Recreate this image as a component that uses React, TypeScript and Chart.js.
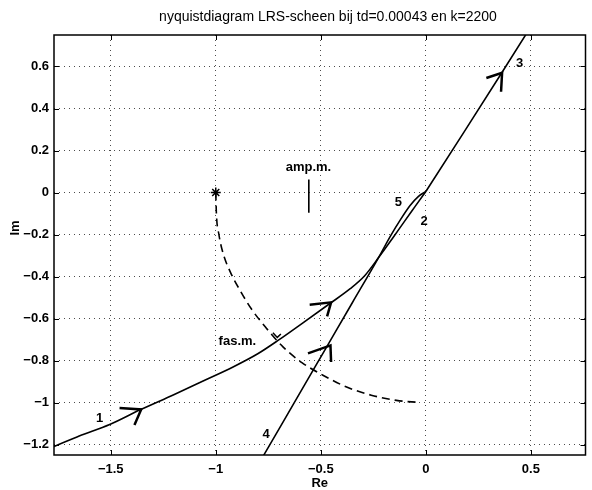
import React, { useEffect, useRef } from "react";
import { Chart, registerables } from "chart.js";
Chart.register(...registerables);

const TITLE = "nyquistdiagram LRS-scheen bij td=0.00043 en k=2200";
const X_LABEL = "Re";
const Y_LABEL = "Im";

const xTicks = [-1.5, -1, -0.5, 0, 0.5];
const yTicks = [-1.2, -1, -0.8, -0.6, -0.4, -0.2, 0, 0.2, 0.4, 0.6];
const X_MIN = -1.77;
const X_MAX = 0.76;
const Y_MIN = -1.25;
const Y_MAX = 0.75;

// branch 1 -> 2 (curved branch from lower left to origin)
const branch12Re = [-1.8, -1.77, -1.65, -1.505, -1.36, -1.2, -1.05, -0.92, -0.8, -0.7, -0.58, -0.46, -0.36, -0.29, -0.225, -0.16, -0.1, -0.05, 0];
const branch12Im = [-1.225, -1.21, -1.16, -1.105, -1.035, -0.963, -0.893, -0.832, -0.768, -0.702, -0.617, -0.531, -0.458, -0.395, -0.31, -0.22, -0.135, -0.065, 0.005];

// branch 4 -> 5 (straight branch from bottom to origin)
const branch45Re = [-0.8, -0.77, -0.62, -0.476, -0.35, -0.225, -0.17, -0.12, -0.075, -0.035, 0];
const branch45Im = [-1.3, -1.248, -0.99, -0.742, -0.525, -0.31, -0.21, -0.128, -0.062, -0.018, 0.005];

// branch 3 (origin to upper right)
const branch3Re = [0, 0.18, 0.36, 0.5];
const branch3Im = [0.005, 0.285, 0.568, 0.79];

// phase margin arc (dashed)
const phaseArcRe = [-1.0, -0.997, -0.985, -0.965, -0.93, -0.885, -0.83, -0.76, -0.68, -0.59, -0.49, -0.38, -0.26, -0.14, -0.03];
const phaseArcIm = [0.0, -0.1, -0.2, -0.29, -0.38, -0.465, -0.555, -0.645, -0.735, -0.81, -0.87, -0.925, -0.965, -0.99, -1.0];

// amplitude margin marker
const ampMarginRe = [-0.557, -0.557];
const ampMarginIm = [0.062, -0.096];

// critical point
const criticalRe = [-1];
const criticalIm = [0];

// direction arrows (wing, tip, wing)
const arrow1Re = [-1.458, -1.355, -1.387];
const arrow1Im = [-1.026, -1.033, -1.107];
const arrow2Re = [-0.553, -0.451, -0.47];
const arrow2Im = [-0.534, -0.523, -0.59];
const arrow4Re = [-0.561, -0.454, -0.451];
const arrow4Im = [-0.766, -0.728, -0.807];
const arrow3Re = [0.288, 0.363, 0.358];
const arrow3Im = [0.545, 0.57, 0.48];
const arrowArcRe = [-0.728, -0.707, -0.69];
const arrowArcIm = [-0.668, -0.69, -0.674];

// annotations
const noteTexts = ["1", "2", "3", "4", "5", "amp.m.", "fas.m."];
const noteRe = [-1.553, -0.008, 0.446, -0.76, -0.131, -0.559, -0.897];
const noteIm = [-1.076, -0.136, 0.616, -1.152, -0.049, 0.118, -0.71];

const FONT = '"Liberation Sans", Arial, Helvetica, sans-serif';

const zip = (xs: number[], ys: number[]) => xs.map((x, i) => ({ x, y: ys[i] }));

const fmt = (v: number) => {
  const r = Math.round(v * 10) / 10;
  if (r === 0) return "0";
  return r < 0 ? "\u2212" + String(-r) : String(r);
};

const decorPlugin = {
  id: "decor",
  afterDatasetsDraw(chart: any) {
    const { ctx, chartArea: a, scales } = chart;
    const xs = scales.x;
    const ys = scales.y;
    ctx.save();
    ctx.strokeStyle = "#000";
    ctx.lineWidth = 1;
    const seg = (x1: number, y1: number, x2: number, y2: number) => {
      ctx.beginPath();
      ctx.moveTo(x1, y1);
      ctx.lineTo(x2, y2);
      ctx.stroke();
    };
    xTicks.forEach((v) => {
      const px = Math.round(xs.getPixelForValue(v)) + 0.5;
      seg(px, a.bottom, px, a.bottom - 5);
      seg(px, a.top, px, a.top + 5);
    });
    yTicks.forEach((v) => {
      const py = Math.round(ys.getPixelForValue(v)) + 0.5;
      seg(a.left, py, a.left + 5, py);
      seg(a.right, py, a.right - 5, py);
    });
    ctx.lineWidth = 1.5;
    ctx.strokeRect(a.left, a.top, a.right - a.left, a.bottom - a.top);

    ctx.fillStyle = "#000";
    ctx.textAlign = "center";
    ctx.textBaseline = "middle";
    ctx.font = "bold 13px " + FONT;
    noteTexts.forEach((t, i) => {
      ctx.fillText(t, xs.getPixelForValue(noteRe[i]), ys.getPixelForValue(noteIm[i]));
    });

    ctx.font = "14px " + FONT;
    ctx.fillText(TITLE, 328, 17);
    ctx.font = "bold 13px " + FONT;
    ctx.fillText(X_LABEL, (a.left + a.right) / 2, 483);
    ctx.translate(15, 228);
    ctx.rotate(-Math.PI / 2);
    ctx.fillText(Y_LABEL, 0, 0);
    ctx.restore();
  },
};

export default function App() {
  const ref = useRef<HTMLCanvasElement | null>(null);
  useEffect(() => {
    document.body.style.margin = "0";
    const canvas = ref.current;
    if (!canvas) return;
    const lineDs = (data: any[], extra: any = {}) => ({
      data,
      borderColor: "#000",
      backgroundColor: "#000",
      borderWidth: 1.6,
      pointRadius: 0,
      fill: false,
      tension: 0,
      ...extra,
    });
    const gridOpts = { color: "rgba(0,0,0,0.7)", drawTicks: false, lineWidth: 1 };
    const borderOpts = { display: false, dash: [1, 4] };
    const chart = new Chart(canvas, {
      type: "line",
      data: {
        datasets: [
          lineDs(zip(branch12Re, branch12Im), { tension: 0.3, cubicInterpolationMode: "monotone" }),
          lineDs(zip(branch45Re, branch45Im), { tension: 0.3, cubicInterpolationMode: "monotone" }),
          lineDs(zip(branch3Re, branch3Im)),
          lineDs(zip(phaseArcRe, phaseArcIm), { borderDash: [8, 5], tension: 0.3, cubicInterpolationMode: "monotone" }),
          lineDs(zip(ampMarginRe, ampMarginIm)),
          lineDs(zip(arrow1Re, arrow1Im), { borderWidth: 2.5 }),
          lineDs(zip(arrow2Re, arrow2Im), { borderWidth: 2.5 }),
          lineDs(zip(arrow4Re, arrow4Im), { borderWidth: 2.5 }),
          lineDs(zip(arrow3Re, arrow3Im), { borderWidth: 2.5 }),
          lineDs(zip(arrowArcRe, arrowArcIm), { borderWidth: 1.5 }),
          {
            data: zip(criticalRe, criticalIm),
            showLine: false,
            pointStyle: "star",
            pointRadius: 5,
            borderColor: "#000",
            backgroundColor: "#000",
            pointBorderWidth: 1.5,
          },
        ],
      },
      options: {
        animation: false,
        responsive: false,
        devicePixelRatio: 1,
        layout: { padding: { top: 35, right: 2, left: 0, bottom: 0 } },
        plugins: { legend: { display: false }, tooltip: { enabled: false }, title: { display: false } },
        scales: {
          x: {
            type: "linear",
            min: X_MIN,
            max: X_MAX,
            afterBuildTicks: (s: any) => {
              s.ticks = xTicks.map((v) => ({ value: v }));
            },
            afterFit: (s: any) => {
              s.height = 35;
            },
            border: borderOpts,
            grid: gridOpts,
            ticks: {
              padding: 7,
              color: "#000",
              font: { size: 13, family: FONT, weight: "bold" },
              maxRotation: 0,
              autoSkip: false,
              callback: (v: any) => fmt(Number(v)),
            },
          },
          y: {
            type: "linear",
            min: Y_MIN,
            max: Y_MAX,
            afterBuildTicks: (s: any) => {
              s.ticks = yTicks.map((v) => ({ value: v }));
            },
            afterFit: (s: any) => {
              s.width = 54;
            },
            border: borderOpts,
            grid: gridOpts,
            ticks: {
              padding: 5,
              color: "#000",
              font: { size: 13, family: FONT, weight: "bold" },
              autoSkip: false,
              callback: (v: any) => fmt(Number(v)),
            },
          },
        },
      },
      plugins: [decorPlugin],
    } as any);
    return () => chart.destroy();
  }, []);
  return (
    <div style={{ width: 592, height: 490, background: "#fff" }}>
      <canvas ref={ref} width={592} height={490} style={{ display: "block" }} />
    </div>
  );
}
